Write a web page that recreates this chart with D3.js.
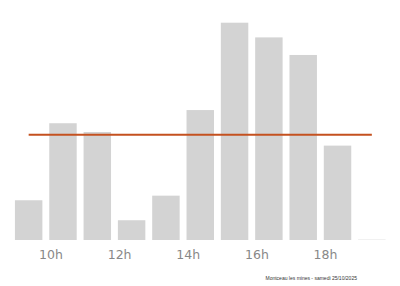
<!DOCTYPE html>
<html><head><meta charset="utf-8">
<script src="https://cdn.jsdelivr.net/npm/d3@7"></script>
<style>html,body{margin:0;padding:0;background:#fff;}svg{display:block;}</style>
</head><body>
<svg id="c" width="400" height="286"></svg>
<script>
const hours = [9, 10, 11, 12, 13, 14, 15, 16, 17, 18, 19];
const values = [18.1, 53.2, 49.2, 9.0, 20.2, 59.2, 99, 92.3, 84.3, 43.0, 0.15];
const tickHours = [10, 12, 14, 16, 18];
const tickLabels = ["10h", "12h", "14h", "16h", "18h"];
const footnote = "Montceau les mines - samedi 25/10/2025";

const svg = d3.select("#c");
const x = d3.scaleBand().domain(hours).range([11.5, 389]).paddingInner(0.2).paddingOuter(0.1);
const y = d3.scaleLinear().domain([0, 100]).range([240, 20.5]);

svg.append("g").selectAll("rect").data(values).join("rect")
  .attr("x", (d, i) => x(hours[i]))
  .attr("width", x.bandwidth())
  .attr("y", d => y(d))
  .attr("height", d => y(0) - y(d))
  .attr("fill", "#d3d3d3");

const avg = d3.mean(values);
const line = d3.line().x(h => x(h) + x.bandwidth() / 2).y(() => y(avg));
svg.append("path").datum([hours[0], hours[hours.length - 1]])
  .attr("d", line).attr("stroke", "#c4511f").attr("stroke-width", 2).attr("fill", "none");

const axis = d3.axisBottom(x).tickValues(tickHours)
  .tickFormat(h => tickLabels[tickHours.indexOf(h)]).tickSize(0).tickPadding(0);
const g = svg.append("g").attr("transform", "translate(0,250)").call(axis);
g.select(".domain").remove();
g.selectAll("text").attr("dx", -12).attr("dy", "0.71em")
  .attr("font-family", "DejaVu Sans").attr("font-size", 12.5).attr("fill", "#888");

svg.append("text").attr("x", 265.5).attr("y", 280)
  .attr("font-family", "Liberation Sans").attr("font-size", 5).attr("fill", "#333")
  .text(footnote);
</script>
</body></html>
